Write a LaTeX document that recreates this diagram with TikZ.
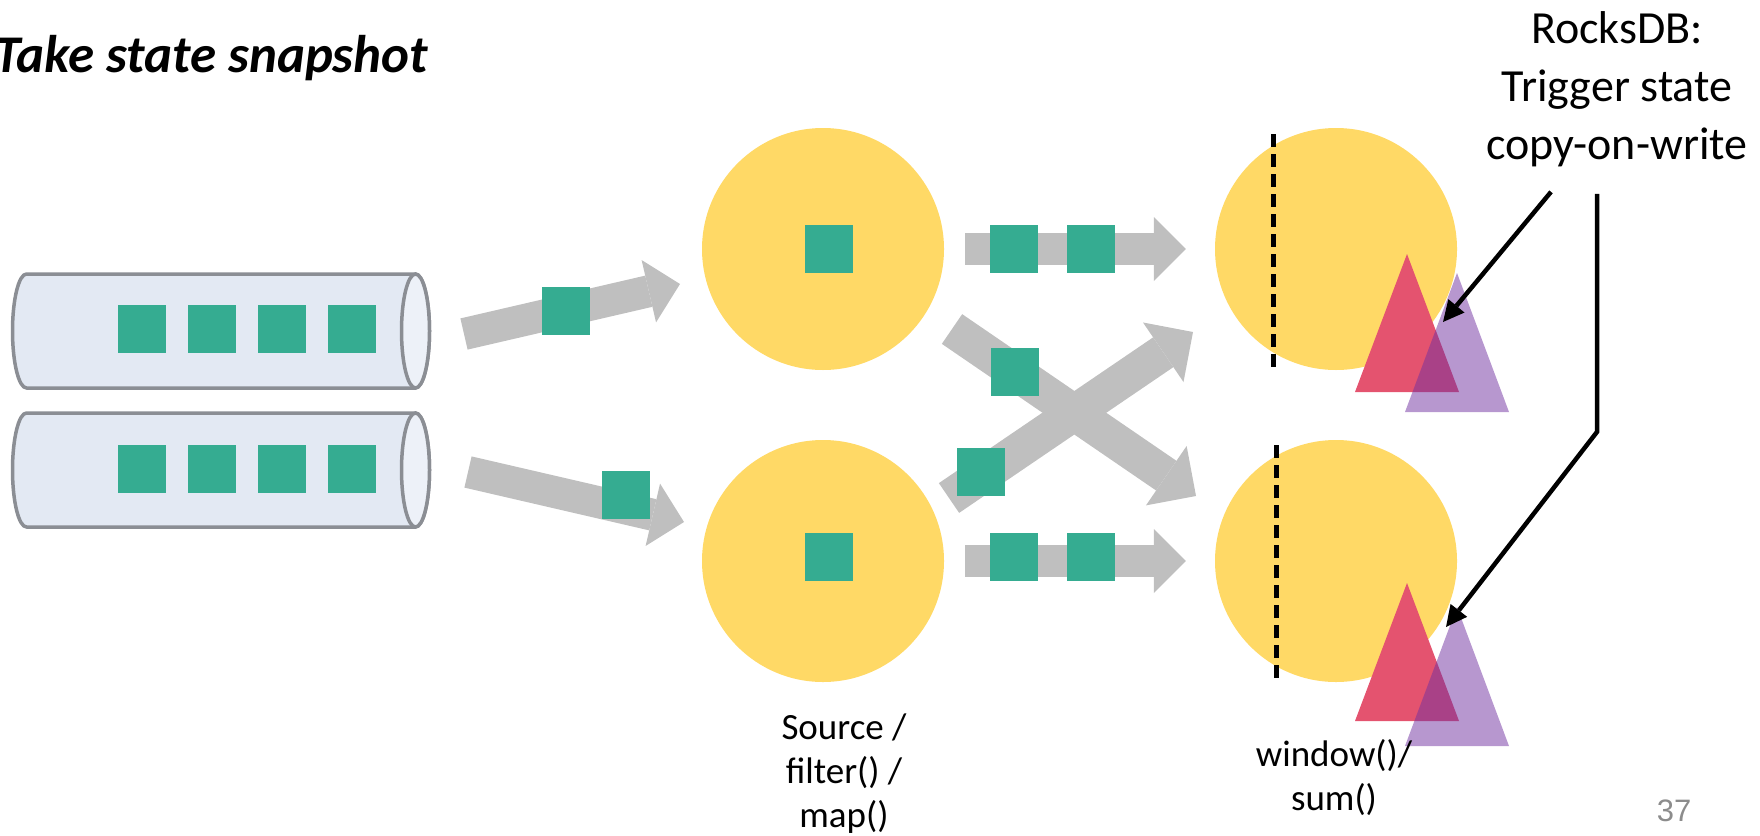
\documentclass[tikz,border=0pt]{standalone}
\usepackage{fontspec}
\setmainfont{Carlito}
\newfontfamily\slidenumfont{Liberation Sans}
\usepackage{xcolor}
\definecolor{opyellow}{HTML}{FFD966}
\definecolor{recgreen}{HTML}{35AC91}
\definecolor{flowgray}{HTML}{BFBFBF}
\definecolor{queuefill}{HTML}{E3E9F3}
\definecolor{queueend}{HTML}{EDF1F8}
\definecolor{queueline}{HTML}{8B8E94}
\definecolor{statered}{HTML}{E4536F}
\definecolor{statepurple}{HTML}{7030A0}
\definecolor{pagegray}{HTML}{8C8C8C}
\usepackage{tikz}
\usetikzlibrary{arrows.meta, positioning, calc}

\tikzstyle{queuebox} = [
  rectangle, minimum width=389pt, minimum height=114pt,
  inner sep=0pt, outer sep=0pt
]
\tikzstyle{queuewall} = [
  draw=queueline, fill=queuefill, line width=3.5pt, line join=round
]
\tikzstyle{queuemouth} = [
  draw=queueline, fill=queueend, line width=3.5pt
]
\tikzstyle{record} = [
  rectangle, fill=recgreen, minimum size=48pt, inner sep=0pt
]
\tikzstyle{op} = [
  circle, fill=opyellow, minimum size=242pt, inner sep=0pt
]
\tikzstyle{flow} = [
  draw=flowgray, line width=32pt,
  -{Triangle[length=32pt, width=64pt, line width=0pt]}
]
\tikzstyle{crossflow} = [
  draw=flowgray, line width=36pt,
  -{Triangle[length=36pt, width=72pt, line width=0pt]}
]
\tikzstyle{barrier} = [
  line width=5pt, dash pattern=on 13pt off 7pt
]
\tikzstyle{oldstate} = [fill=statered]
\tikzstyle{newstate} = [fill=statepurple, fill opacity=0.5]
\tikzstyle{note} = [
  line width=4.5pt, miter limit=4,
  -{Triangle[length=21pt, width=21pt, line width=0pt]}
]
\tikzstyle{optext} = [
  align=center, inner sep=0pt, font=\fontsize{37}{44}\selectfont
]
\tikzstyle{notetext} = [
  align=center, inner sep=0pt, font=\fontsize{46}{58}\selectfont
]

\begin{document}
\begin{tikzpicture}[x=1pt, y=-1pt]
  \useasboundingbox (0,0) rectangle (1760,835);

  % ── Title ─────────────────────────────────────────────
  \node[anchor=base west, inner sep=0pt,
        font=\fontsize{53}{60}\selectfont\bfseries\itshape]
    (title) at (-6,72) {Take state snapshot};

  % ── Input queues ──────────────────────────────────────
  \node[queuebox] (queue1) at (221,331) {};
  \node[queuebox] (queue2) at (221,470) {};

  \draw[queuewall] (queue1.north east) -- (queue1.north west)
    arc[start angle=270, end angle=90, x radius=14, y radius=57]
    -- (queue1.south east)
    arc[start angle=90, end angle=-90, x radius=14, y radius=57];
  \draw[queuemouth] (queue1.east) ellipse [x radius=14, y radius=57];

  \draw[queuewall] (queue2.north east) -- (queue2.north west)
    arc[start angle=270, end angle=90, x radius=14, y radius=57]
    -- (queue2.south east)
    arc[start angle=90, end angle=-90, x radius=14, y radius=57];
  \draw[queuemouth] (queue2.east) ellipse [x radius=14, y radius=57];

  \node[record] (q1r1) at (142,329) {};
  \node[record] (q1r2) at (212,329) {};
  \node[record] (q1r3) at (282,329) {};
  \node[record] (q1r4) at (352,329) {};

  \node[record] (q2r1) at (142,469) {};
  \node[record] (q2r2) at (212,469) {};
  \node[record] (q2r3) at (282,469) {};
  \node[record] (q2r4) at (352,469) {};

  % ── Operators ─────────────────────────────────────────
  \node[op] (src1) at (823,249) {};
  \node[op] (src2) at (823,561) {};
  \node[op] (win1) at (1336,249) {};
  \node[op] (win2) at (1336,561) {};

  \node[record] (s1rec) at (829,249) {};
  \node[record] (s2rec) at (829,557) {};

  % ── Streams ───────────────────────────────────────────
  \draw[flow] ($(queue1)+(243,3)$) -- ($(src1)+(-143,35)$)
    node[record, pos=0.47] (q1out) {};
  \draw[flow] ($(queue2)+(247,2)$) -- ($(src2)+(-139,-39)$)
    node[record, pos=0.73, yshift=14pt] (q2out) {};

  \draw[flow] ($(src1.east)+(21,0)$) -- ($(win1.west)+(-29,0)$)
    node[record, pos=0.22] (s1w1a) {}
    node[record, pos=0.57] (s1w1b) {};
  \draw[flow] ($(src2.east)+(21,0)$) -- ($(win2.west)+(-29,0)$)
    node[record, pos=0.22, yshift=4pt] (s2w2a) {}
    node[record, pos=0.57, yshift=4pt] (s2w2b) {};

  % shuffle between the two sides
  \draw[crossflow] ($(src1)+(129,80)$) -- ($(win2)+(-140,-65)$)
    node[record, pos=0.26] (s1w2) {};
  \draw[crossflow] ($(src2)+(126,-63)$) -- ($(win1)+(-143,83)$)
    node[record, pos=0.13, yshift=4pt] (s2w1) {};

  % ── Barriers ──────────────────────────────────────────
  \draw[barrier] ($(win1)+(-63,-115)$) -- ($(win1)+(-63,118)$);
  \draw[barrier] ($(win2)+(-60,-116)$) -- ($(win2)+(-60,117)$);

  % ── State: old and copied ─────────────────────────────
  \path[oldstate] (1407,254) -- (1355,392) -- (1459,392) -- cycle;
  \path[newstate] (1457,273) -- (1405,412) -- (1509,412) -- cycle;
  \path[oldstate] (1407,583) -- (1355,721) -- (1459,721) -- cycle;
  \path[newstate] (1457,607) -- (1405,746) -- (1509,746) -- cycle;

  % ── Labels ────────────────────────────────────────────
  \node[optext, below=31pt of src2, xshift=21pt]
    (srclabel) {Source /\\filter() /\\map()};
  \node[optext, below=57pt of win2, xshift=-2pt]
    (winlabel) {window()/\\sum()};

  \node[notetext] (rocks) at (1617,89)
    {RocksDB:\\Trigger state\\copy-on-write};

  \coordinate (copy1) at ($(win1)+(107,73)$);
  \coordinate (copy2) at ($(win2)+(110,66)$);
  \coordinate (bend)  at ($(rocks.south)+(-20,265)$);

  \draw[note] ($(rocks.south)+(-66,25)$) -- (copy1);
  \draw[note] ($(rocks.south)+(-20,27)$) -- (bend) -- (copy2);

  \node[font=\slidenumfont\fontsize{31}{36}\selectfont, text=pagegray]
    (slidenum) at (1674,811) {37};

\end{tikzpicture}
\end{document}
